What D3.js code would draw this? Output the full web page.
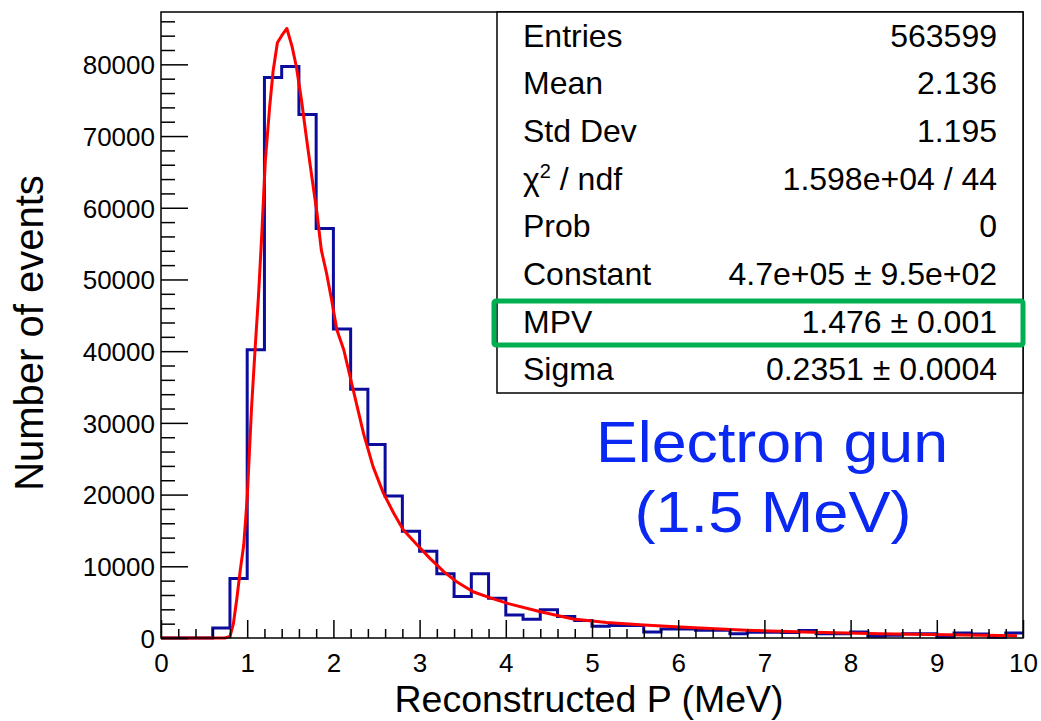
<!DOCTYPE html>
<html>
<head>
	<title>landau</title>
	<style>
	body { margin: 0; background: #fff; }
	text { font-family: 'Liberation Sans', Arial, Helvetica, sans-serif; fill: #000; }
	.tick line { stroke: #000; stroke-width: 1.5px; }
	.tick text { font-size: 26px; }
	.stattext { font-size: 32px; }
	</style>
	<script src="https://d3js.org/d3.v7.min.js"></script>
</head>
<body>
	<script type="text/javascript">
		// histogram, 50 bins of 0.2 MeV from 0 to 10
		var binLow = 0, binWidth = 0.2;
		var counts = [
			0, 0, 0, 1400, 8300, 40200, 78150, 79700, 73000, 57100,
			43100, 34700, 27000, 19800, 14900, 12100, 8950, 5800, 8950, 5530,
			3200, 2600, 3950, 3000, 2450, 1650, 1750, 1750, 850, 1250,
			1250, 1070, 1070, 600, 800, 800, 750, 1050, 600, 600,
			850, 250, 400, 580, 580, 100, 700, 560, 100, 700
		];

		// landau fit curve
		var fitX = [0, 0.74, 0.80, 0.84, 0.88, 0.92, 0.96, 1.00, 1.05, 1.09, 1.13, 1.17, 1.21, 1.26, 1.30, 1.35, 1.40, 1.46,
			1.52, 1.57, 1.63, 1.69, 1.75, 1.81, 1.86, 1.92, 1.98, 2.04, 2.12, 2.23, 2.35, 2.46, 2.58, 2.70, 2.81,
			2.97, 3.12, 3.28, 3.43, 3.62, 3.82, 4.03, 4.39, 4.78, 5.17, 5.60, 6.02, 6.79, 7.57, 8.34, 9.11, 9.93];
		var fitY = [0, 0, 200, 2000, 5500, 9500, 13000, 19500, 32000, 40000, 47500, 56500, 66500, 74000, 79000, 83000, 84000, 85000,
			82500, 79700, 75000, 69500, 64300, 59200, 54100, 50900, 47100, 43000, 40200, 34600, 28500, 23900, 20200, 17400, 15100,
			13000, 11100, 9250, 7850, 6450, 5600, 4800, 3700, 2650, 2150, 1800, 1520, 1070, 800, 600, 460, 330];

		var xTicks = [0, 1, 2, 3, 4, 5, 6, 7, 8, 9, 10];
		var yTicks = [0, 10000, 20000, 30000, 40000, 50000, 60000, 70000, 80000];

		var statLabels = ['Entries', 'Mean', 'Std Dev', 'chi2', 'Prob', 'Constant', 'MPV', 'Sigma'];
		var statValues = ['563599', '2.136', '1.195', '1.598e+04 / 44', '0', '4.7e+05 \u00b1 9.5e+02', '1.476 \u00b1 0.001', '0.2351 \u00b1 0.0004'];

		var svgWidth = 1041, svgHeight = 721;
		var padL = 161, padR = 1023, padT = 12, padB = 638;

		var svg = d3.select('body').append('svg')
			.attr('width', svgWidth)
			.attr('height', svgHeight);

		var x = d3.scaleLinear().domain([0, 10]).range([padL, padR]);
		var y = d3.scaleLinear().domain([0, 87300]).range([padB, padT]);

		// histogram outline
		var steps = counts.map(function (c, i) { return [binLow + i * binWidth, c]; });
		steps.push([binLow + counts.length * binWidth, counts[counts.length - 1]]);
		var stepLine = d3.line()
			.x(function (d) { return x(d[0]); })
			.y(function (d) { return y(d[1]); })
			.curve(d3.curveStepAfter);
		svg.append('path')
			.attr('d', stepLine(steps))
			.attr('fill', 'none')
			.attr('stroke', '#0c0c9c')
			.attr('stroke-width', 3);

		// fit
		var fitLine = d3.line()
			.x(function (d, i) { return x(fitX[i]); })
			.y(function (d) { return y(d); });
		svg.append('path')
			.attr('d', fitLine(fitY))
			.attr('fill', 'none')
			.attr('stroke', '#ff0000')
			.attr('stroke-width', 3)
			.attr('stroke-linejoin', 'round');

		// minor ticks
		var xMinor = d3.range(0, 50).map(function (i) { return i * 0.2; }).filter(function (v, i) { return i % 5 !== 0; });
		var yMinor = d3.range(0, 44).map(function (i) { return i * 2000; }).filter(function (v, i) { return i % 5 !== 0; });

		svg.append('g')
			.attr('transform', 'translate(0,' + padB + ')')
			.call(d3.axisBottom(x).tickValues(xMinor).tickSize(-9).tickFormat(''))
			.call(function (g) { g.select('.domain').remove(); });
		svg.append('g')
			.attr('transform', 'translate(' + padL + ',0)')
			.call(d3.axisLeft(y).tickValues(yMinor).tickSize(-14).tickFormat(''))
			.call(function (g) { g.select('.domain').remove(); });

		// major ticks + labels
		svg.append('g')
			.attr('transform', 'translate(0,' + padB + ')')
			.call(d3.axisBottom(x).tickValues(xTicks).tickSize(-18).tickFormat(d3.format('d')))
			.call(function (g) {
				g.select('.domain').remove();
				g.selectAll('text').attr('y', 34).attr('dy', null).attr('fill', '#000');
			});
		svg.append('g')
			.attr('transform', 'translate(' + padL + ',0)')
			.call(d3.axisLeft(y).tickValues(yTicks).tickSize(-27).tickFormat(d3.format('d')))
			.call(function (g) {
				g.select('.domain').remove();
				g.selectAll('text').attr('x', -6).attr('dy', '0.36em').attr('fill', '#000');
			});

		// frame
		svg.append('rect')
			.attr('x', padL).attr('y', padT)
			.attr('width', padR - padL).attr('height', padB - padT)
			.attr('fill', 'none')
			.attr('stroke', '#000')
			.attr('stroke-width', 1.5);

		// axis titles
		svg.append('text')
			.attr('x', (padL + padR) / 2 - 3)
			.attr('y', 712)
			.attr('text-anchor', 'middle')
			.style('font-size', '37.5px')
			.text('Reconstructed P (MeV)');
		svg.append('text')
			.attr('transform', 'translate(43,333) rotate(-90)')
			.attr('text-anchor', 'middle')
			.style('font-size', '40px')
			.text('Number of events');

		// stats box
		var boxLeft = 497, boxBottom = 393;
		var rowH = (boxBottom - padT) / statLabels.length;
		svg.append('rect')
			.attr('x', boxLeft).attr('y', padT)
			.attr('width', padR - boxLeft).attr('height', boxBottom - padT)
			.attr('fill', '#fff')
			.attr('stroke', '#000')
			.attr('stroke-width', 1.5);

		var rows = svg.selectAll('g.stat')
			.data(statLabels)
			.enter()
			.append('g')
			.attr('class', 'stat')
			.attr('transform', function (d, i) { return 'translate(0,' + (padT + rowH * (i + 0.5) + 11) + ')'; });

		rows.append('text')
			.attr('class', 'stattext')
			.attr('x', 523)
			.each(function (d) {
				var t = d3.select(this);
				if (d === 'chi2') {
					t.append('tspan').text('\u03c7');
					t.append('tspan').attr('dy', -12).style('font-size', '20px').text('2');
					t.append('tspan').attr('dy', 12).text(' / ndf');
				} else {
					t.text(d);
				}
			});

		rows.append('text')
			.attr('class', 'stattext')
			.attr('x', 997)
			.attr('text-anchor', 'end')
			.text(function (d, i) { return statValues[i]; });

		// green highlight on MPV
		svg.append('rect')
			.attr('x', 494).attr('y', 301)
			.attr('width', 1023 - 494).attr('height', 345 - 301)
			.attr('rx', 2)
			.attr('fill', 'none')
			.attr('stroke', '#00b050')
			.attr('stroke-width', 5);

		// annotation
		svg.append('text')
			.attr('x', 772).attr('y', 462)
			.attr('text-anchor', 'middle')
			.attr('textLength', 352)
			.attr('lengthAdjust', 'spacingAndGlyphs')
			.style('font-size', '57px')
			.style('fill', '#0a28f2')
			.text('Electron gun');
		svg.append('text')
			.attr('x', 773).attr('y', 532)
			.attr('text-anchor', 'middle')
			.attr('textLength', 277)
			.attr('lengthAdjust', 'spacingAndGlyphs')
			.style('font-size', '57px')
			.style('fill', '#0a28f2')
			.text('(1.5 MeV)');
	</script>
</body>
</html>
